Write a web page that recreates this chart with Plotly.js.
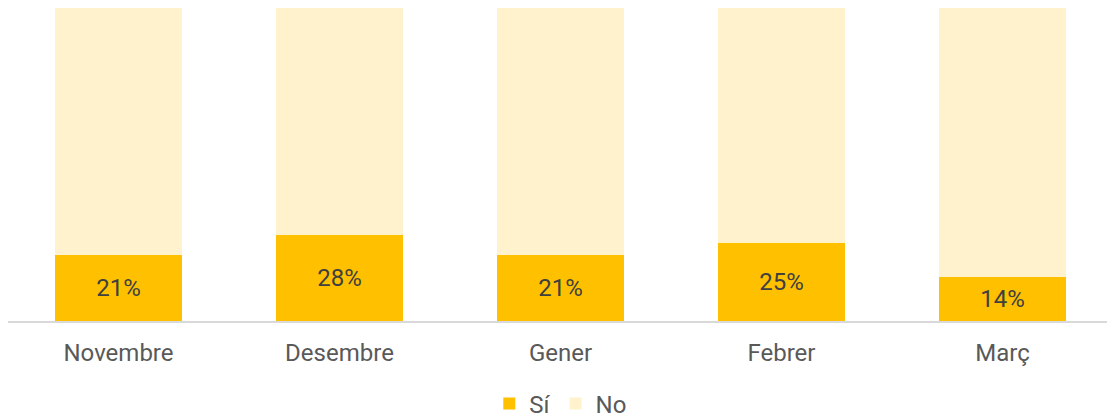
<!DOCTYPE html>
<html>
<head>
<meta charset="utf-8">
<script src="https://cdn.plot.ly/plotly-3.0.1.min.js"></script>
<style>html,body{margin:0;padding:0;background:#fff;}#chart{width:1107px;height:419px;}</style>
</head>
<body>
<div id="chart"></div>
<script>
const months = ["Novembre", "Desembre", "Gener", "Febrer", "Març"];
const siValues = [21, 27.6, 21, 25, 14];
const noValues = [79, 72.4, 79, 75, 86];
const seriesNames = ["Sí", "No"];

const traces = [
  {
    type: "bar", name: seriesNames[0], x: months, y: siValues,
    marker: {color: "#FFC000"},
    texttemplate: "%{y:.0f}%", textposition: "inside", insidetextanchor: "middle",
    textfont: {family: "Roboto, sans-serif", size: 24, color: "#404040"},
    hoverinfo: "skip"
  },
  {
    type: "bar", name: seriesNames[1], x: months, y: noValues,
    marker: {color: "#FFF2CC"},
    textposition: "none",
    hoverinfo: "skip"
  }
];

const layout = {
  width: 1107, height: 419,
  margin: {l: 8, r: 0, t: 8, b: 98, autoexpand: false},
  barmode: "stack",
  bargap: 0.425,
  paper_bgcolor: "#ffffff",
  plot_bgcolor: "#ffffff",
  font: {family: "Roboto, sans-serif", size: 24, color: "#595959"},
  showlegend: true,
  legend: {
    orientation: "h", x: 0.503, xanchor: "center", y: -0.193, yanchor: "top",
    font: {family: "Roboto, sans-serif", size: 24, color: "#595959"},
    itemwidth: 30, traceorder: "normal"
  },
  xaxis: {
    range: [-0.5, 4.473],
    showline: true, linecolor: "#D9D9D9", linewidth: 2,
    ticks: "", showgrid: false, zeroline: false,
    tickfont: {family: "Roboto, sans-serif", size: 24, color: "#595959"},
    ticklabelstandoff: 9
  },
  yaxis: {
    range: [0, 100], showgrid: false, zeroline: false, showline: false,
    showticklabels: false, ticks: ""
  }
};

Plotly.newPlot("chart", traces, layout, {displayModeBar: false, staticPlot: true});
</script>
</body>
</html>
